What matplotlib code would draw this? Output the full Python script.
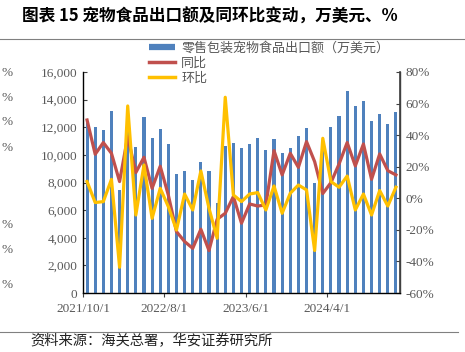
import matplotlib
matplotlib.use("Agg")
import matplotlib.pyplot as plt
from matplotlib.lines import Line2D
import numpy as np

plt.rcParams["font.family"] = ["Noto Sans CJK SC", "DejaVu Sans"]

# monthly data, 2021/10 .. 2024/12
months = [f"{y}/{m}/1" for y, m in
          [(2021, 10), (2021, 11), (2021, 12)]
          + [(2022, m) for m in range(1, 13)]
          + [(2023, m) for m in range(1, 13)]
          + [(2024, m) for m in range(1, 13)]]

export_value = [12300, 12050, 11800, 13190, 7460, 11800, 10560, 12730, 11200, 11840,
                10800, 8650, 8840, 8190, 9520, 8840, 6550, 10650, 10850, 10530,
                10820, 11200, 10360, 11180, 10120, 10480, 11380, 11960, 8000, 11040,
                12050, 12780, 14590, 13550, 13910, 12440, 12970, 12270, 13070]

yoy = [49.6, 27.9, 35.3, 28.5, 10.6, 39.0, 16.3, 26.0, 6.3, 20.3,
       2.0, -21.1, -27.4, -31.7, -19.6, -33.1, -13.3, -9.5, 1.1, -15.8,
       -3.6, -4.9, -4.2, 30.2, 14.8, 28.5, 19.6, 35.9, 23.2, 3.0,
       9.9, 21.7, 35.3, 20.5, 34.4, 12.0, 28.1, 17.5, 14.8]

mom = [10.6, -2.7, -2.1, 12.0, -43.7, 58.5, -10.6, 21.1, -12.7, 6.3,
       -5.3, -20.1, 2.7, -7.4, 17.3, -6.3, -25.3, 64.0, 2.1, -2.1,
       2.7, 3.6, -7.4, 7.8, -9.5, 3.2, 8.4, 5.3, -33.1, 38.0,
       10.6, 7.0, 14.1, -7.4, 2.7, -10.6, 4.9, -4.9, 7.0]

BLUE = "#4F81BD"
RED = "#C0504D"
YELLOW = "#FFC000"
GRAY = "#595959"
SERIF = "Liberation Serif"

fig = plt.figure(figsize=(4.65, 3.52), dpi=100)
fig.patch.set_facecolor("white")

x = np.arange(len(months))

ax = fig.add_axes([83 / 465, 1 - 293 / 352, 317 / 465, 221 / 352])
ax.bar(x, export_value, width=0.38, color=BLUE, zorder=2)
ax.set_xlim(-0.5, len(months) - 0.5)
ax.set_ylim(0, 16000)
ax.set_yticks(np.arange(0, 16001, 2000))
ax.set_yticklabels([f"{v:,}" for v in range(0, 16001, 2000)],
                   fontfamily=SERIF, fontsize=9.5, color=GRAY)
ax.tick_params(axis="y", direction="in", length=3, color="#404040", pad=4)

tick_idx = [0, 10, 20, 30]
ax.set_xticks([i - 0.5 for i in tick_idx])
ax.set_xticklabels([months[i] for i in tick_idx], fontfamily=SERIF,
                   fontsize=9.5, color=GRAY)
ax.tick_params(axis="x", direction="out", length=3, color="#404040", pad=4)
ax.spines["top"].set_visible(False)
for s in ["left", "bottom", "right"]:
    ax.spines[s].set_color("#404040")
    ax.spines[s].set_linewidth(1.0)

ax2 = ax.twinx()
ax2.plot(x, yoy, color=RED, lw=2.3, zorder=3)
ax2.plot(x, mom, color=YELLOW, lw=2.3, zorder=4)
ax2.set_ylim(-60, 80)
ax2.set_yticks(np.arange(-60, 81, 20))
ax2.set_yticklabels([f"{v}%" for v in range(-60, 81, 20)],
                    fontfamily=SERIF, fontsize=9.5, color=GRAY)
ax2.tick_params(axis="y", direction="in", length=3, color="#404040", pad=4)
ax2.spines["top"].set_visible(False)
ax2.spines["right"].set_color("#404040")
ax2.spines["right"].set_linewidth(1.2)

handles = [
    Line2D([0], [0], color=BLUE, lw=4.5, solid_capstyle="butt"),
    Line2D([0], [0], color=RED, lw=2.5),
    Line2D([0], [0], color=YELLOW, lw=2.5),
]
labels = ["零售包装宠物食品出口额（万美元）", "同比", "环比"]
fig.legend(handles, labels, loc="upper left", bbox_to_anchor=(142 / 465, 1 - 35 / 352),
           frameon=False, fontsize=9.4, labelcolor=GRAY, handlelength=2.0,
           handletextpad=0.5, labelspacing=0.15, borderpad=0)

# title and source
fig.text(22 / 465, 1 - 17 / 352, "图表 15 宠物食品出口额及同环比变动，万美元、%",
         fontsize=12, fontweight="bold", va="center", ha="left", color="black")
fig.add_artist(Line2D([0, 1], [1 - 39 / 352] * 2, color="#808080", lw=0.8))
fig.add_artist(Line2D([0, 0.985], [1 - 332 / 352] * 2, color="#808080", lw=0.8))
fig.text(30 / 465, 1 - 341 / 352, "资料来源：海关总署，华安证券研究所",
         fontsize=10.3, va="center", ha="left", color="#222222")

# remnants of the neighbouring chart's labels at the left edge
for yy in [73, 98, 122, 148, 225, 250, 285]:
    fig.text(1 / 465, 1 - yy / 352, "%", fontfamily=SERIF, fontsize=9.5,
             color=GRAY, ha="left", va="center")

fig.savefig("out.png", dpi=100)
